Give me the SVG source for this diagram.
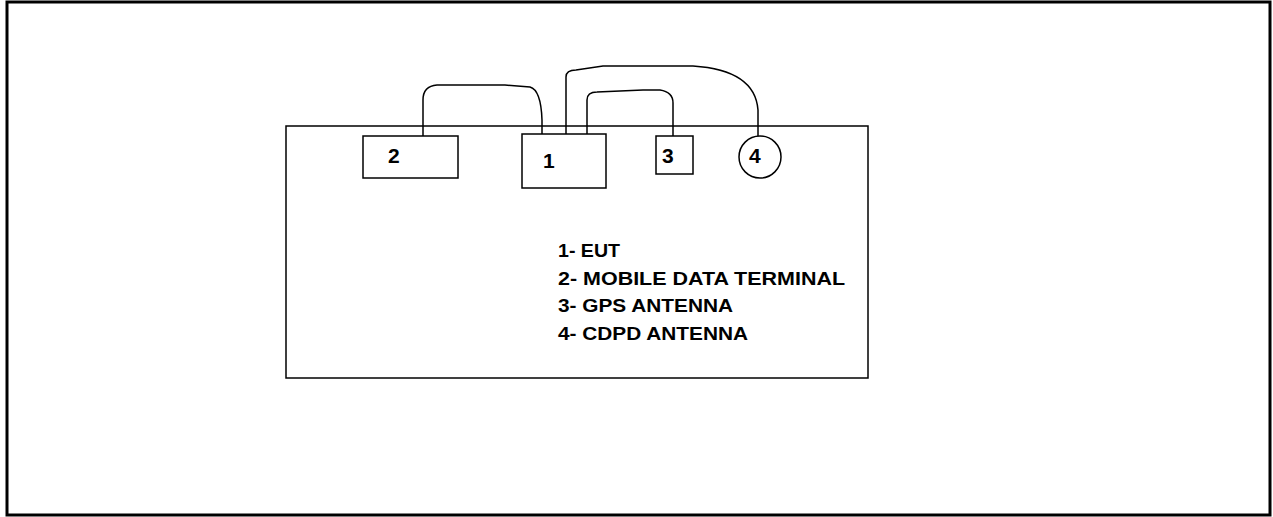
<svg xmlns="http://www.w3.org/2000/svg" width="1273" height="517" viewBox="0 0 1273 517">
<style>
.frame{fill:#fff;stroke:#000;stroke-width:3}
.box{fill:#fff;stroke:#000;stroke-width:1.5}
.lbl{font-family:"Liberation Sans",Arial,sans-serif;font-weight:bold;font-size:21px;fill:#000}
.leg{font-family:"Liberation Sans",Arial,sans-serif;font-weight:bold;font-size:19px;fill:#000}
.cable{fill:none;stroke:#000;stroke-width:1.5}
</style>
<rect x="0" y="0" width="1273" height="517" fill="#fff"/>
<rect class="frame" x="7" y="2" width="1263" height="513"/>
<g id="enclosure"><rect class="box" x="286" y="126" width="582" height="252"/></g>
<g id="connectors">
<path class="cable" d="M423,136 V100 Q423,86 437,85 H505 L530,87 Q541,90 542,120 V134"/>
<path class="cable" d="M566,134 V77 Q566,70 576,70 L603,66 H693 Q755,70 758,110 V136"/>
<path class="cable" d="M587,134 V100 Q587,92 597,92 L643,90 H660 Q673,92 673,103 V136"/>
</g>
<g id="node2"><rect class="box" x="363" y="136" width="95" height="42"/><text class="lbl" x="388" y="163">2</text></g>
<g id="node1"><rect class="box" x="522" y="134" width="84" height="54"/><text class="lbl" x="543" y="168">1</text></g>
<g id="node3"><rect class="box" x="656" y="136" width="37" height="38"/><text class="lbl" x="662" y="163">3</text></g>
<g id="node4"><circle class="box" cx="760" cy="157" r="21"/><text class="lbl" x="749" y="163">4</text></g>
<g id="legend">
<text class="leg" x="558" y="257" textLength="62" lengthAdjust="spacingAndGlyphs">1- EUT</text>
<text class="leg" x="558" y="285" textLength="287" lengthAdjust="spacingAndGlyphs">2- MOBILE DATA TERMINAL</text>
<text class="leg" x="558" y="312" textLength="175" lengthAdjust="spacingAndGlyphs">3- GPS ANTENNA</text>
<text class="leg" x="558" y="340" textLength="190" lengthAdjust="spacingAndGlyphs">4- CDPD ANTENNA</text>
</g>
</svg>
